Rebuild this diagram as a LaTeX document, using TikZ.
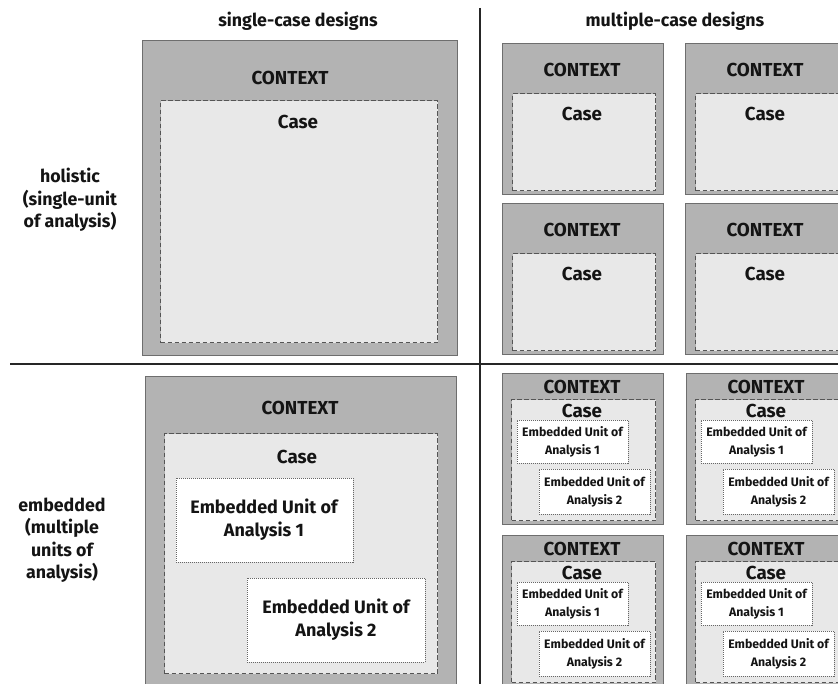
\documentclass[tikz,border=0pt]{standalone}
\usepackage{fontspec}
\setmainfont{Fira Sans}
\usetikzlibrary{fit}
\definecolor{ctxfill}{HTML}{B3B3B3}
\definecolor{ctxbor}{HTML}{6E6E6E}
\definecolor{casefill}{HTML}{E8E8E8}
\definecolor{casebor}{HTML}{555555}
\definecolor{unitbor}{HTML}{666666}
\definecolor{txt}{HTML}{141414}
\tikzset{
  ctx/.style={draw=ctxbor, fill=ctxfill, line width=1.3pt, inner sep=0pt, anchor=north west},
  casebox/.style={draw=casebor, fill=casefill, line width=1.1pt, dash pattern=on 4.5pt off 2.5pt, inner sep=0pt, anchor=north west},
  unitbox/.style={draw=unitbor, fill=white, line width=0.9pt, dash pattern=on 1pt off 1pt, inner sep=0pt, anchor=north west},
  lbl/.style={text=txt, font=\bfseries\fontsize{18.8}{22}\selectfont, inner sep=0pt, align=center},
  headlbl/.style={text=txt, font=\bfseries\fontsize{17.8}{21}\selectfont, inner sep=0pt, align=center},
  smalllbl/.style={text=txt, font=\bfseries\fontsize{12.3}{18}\selectfont, inner sep=0pt, align=center},
  biglbl/.style={text=txt, font=\bfseries\fontsize{18}{23}\selectfont, inner sep=0pt, align=center},
  rowlbl/.style={text=txt, font=\bfseries\fontsize{17.8}{22.5}\selectfont, inner sep=0pt, align=center},
  divider/.style={draw=black!85, line width=1.5pt}
}
\newcommand\holiblock[3]{%
  \begin{scope}[shift={(#2,#3)}]
    \node[ctx, minimum width=161pt, minimum height=151pt] (#1ctx) at (0,0) {};
    \node[lbl] (#1ctxlbl) at (80,27) {CONTEXT};
    \node[casebox, minimum width=143pt, minimum height=97pt] (#1case) at (10,50) {};
    \node[lbl] (#1caselbl) at (80,71) {Case};
  \end{scope}}
\newcommand\embblock[3]{%
  \begin{scope}[shift={(#2,#3)}]
    \node[ctx, minimum width=161pt, minimum height=151pt] (#1ctx) at (0,0) {};
    \node[lbl] (#1ctxlbl) at (80,14) {CONTEXT};
    \node[casebox, minimum width=144pt, minimum height=121pt] (#1case) at (9,26) {};
    \node[lbl] (#1caselbl) at (80,38) {Case};
    \node[unitbox, minimum width=111pt, minimum height=43pt] (#1ua) at (15,47) {};
    \node[smalllbl] (#1ual) at (70.5,69) {Embedded Unit of\\Analysis 1};
    \node[unitbox, minimum width=111pt, minimum height=45pt] (#1ub) at (37,96) {};
    \node[smalllbl] (#1ubl) at (92.5,119) {Embedded Unit of\\Analysis 2};
  \end{scope}}
\begin{document}
\begin{tikzpicture}[x=1pt,y=-1pt]
\useasboundingbox (0,0) rectangle (838,684);
\clip (0,0) rectangle (838,684);
\fill[white] (0,0) rectangle (838,684);
% headings
\node[headlbl] (hsingle) at (298,21) {single-case designs};
\node[headlbl] (hmulti) at (675,21) {multiple-case designs};
\node[rowlbl] (rholi) at (70,200) {holistic\\(single-unit\\of analysis)};
\node[rowlbl] (remb) at (62,540) {embedded\\(multiple\\units of\\analysis)};
% dividers
\coordinate (vtop) at (480,8);
\coordinate (vbot) at (480,684);
\coordinate (hl) at (10,364);
\coordinate (hr) at (838,364);
\draw[divider] (vtop) -- (vbot);
\draw[divider] (hl) -- (hr);
% single holistic
\node[ctx, minimum width=315pt, minimum height=315pt] (shctx) at (142,40) {};
\node[lbl] (shctxlbl) at (290,78) {CONTEXT};
\node[casebox, minimum width=277pt, minimum height=242pt] (shcase) at (160,100) {};
\node[lbl] (shcaselbl) at (298,122) {Case};
% single embedded
\node[ctx, minimum width=311pt, minimum height=340pt] (sectx) at (145,376) {};
\node[lbl] (sectxlbl) at (300,408) {CONTEXT};
\node[casebox, minimum width=273pt, minimum height=240pt] (secase) at (164,433) {};
\node[lbl] (secaselbl) at (297,457) {Case};
\node[unitbox, minimum width=177pt, minimum height=84pt] (seua) at (176,478) {};
\node[biglbl] (seual) at (264,520) {Embedded Unit of\\Analysis 1};
\node[unitbox, minimum width=178pt, minimum height=84pt] (seub) at (247,578) {};
\node[biglbl] (seubl) at (336,620) {Embedded Unit of\\Analysis 2};
% multiple holistic
\holiblock{mhA}{502}{43}
\holiblock{mhB}{685}{43}
\holiblock{mhC}{502}{203}
\holiblock{mhD}{685}{203}
% multiple embedded
\embblock{meA}{502}{373}
\embblock{meB}{686}{373}
\embblock{meC}{502}{535}
\embblock{meD}{686}{535}
\end{tikzpicture}
\end{document}
